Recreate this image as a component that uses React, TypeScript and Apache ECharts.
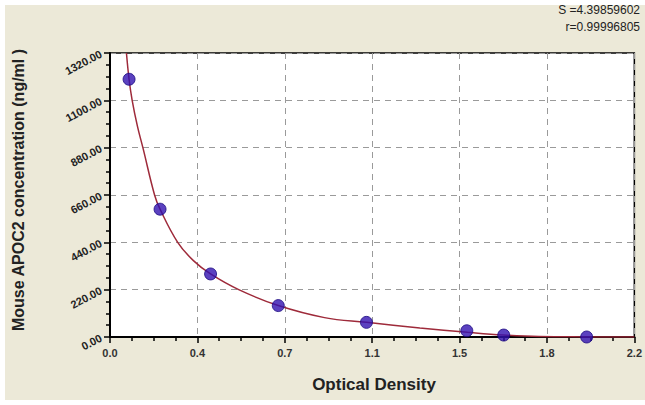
import React, { useEffect, useRef } from "react";
import * as echarts from "echarts";

// Measured standards (optical density, concentration ng/ml)
const pointOD = [0.08, 0.21, 0.422, 0.706, 1.076, 1.497, 1.652, 2.0];
const pointConc = [1198, 594, 293, 146, 68, 29, 9, 0];

// Fitted curve
const curveOD = [0.069, 0.08, 0.093, 0.115, 0.138, 0.187, 0.21, 0.284, 0.35, 0.422, 0.54, 0.706, 0.9, 1.076, 1.3, 1.5, 1.65, 1.8, 2.0, 2.2];
const curveConc = [1320, 1198, 1100, 980, 880, 660, 594, 440, 355, 293, 220, 146, 90, 68, 42, 22, 9, 2, 0.5, 0];

const xTitle = "Optical Density";
const yTitle = "Mouse APOC2 concentration (ng/ml )";
const statS = "S =4.39859602";
const statR = "r=0.99996805";

const X_MIN = 0;
const X_MAX = 2.2;
const Y_MIN = 0;
const Y_MAX = 1320;
const Y_STEP = 220;

export default function App() {
  const ref = useRef<HTMLDivElement>(null);
  useEffect(() => {
    if (!ref.current) return;
    const chart = echarts.init(ref.current, undefined, { renderer: "svg" });
    const font = "'Liberation Sans', Arial, sans-serif";
    chart.setOption({
      animation: false,
      backgroundColor: "#ffffff",
      graphic: [
        { type: "rect", z: -10, silent: true, shape: { x: 5, y: 5, width: 640, height: 395 }, style: { fill: "#ECE9D8" } },
        { type: "text", x: 640, y: 4, style: { text: statS, align: "right", font: `12px ${font}`, fill: "#222" } },
        { type: "text", x: 640, y: 21, style: { text: statR, align: "right", font: `12px ${font}`, fill: "#222" } },
        { type: "text", x: 374, y: 384, style: { text: xTitle, align: "center", verticalAlign: "middle", font: `bold 17px ${font}`, fill: "#222" } },
        { type: "text", x: 18, y: 190, rotation: Math.PI / 2, style: { text: yTitle, align: "center", verticalAlign: "middle", font: `bold 16px ${font}`, fill: "#222" } },
      ],
      grid: {
        left: 110, top: 53, width: 530, height: 284,
        show: true, backgroundColor: "#ffffff", borderColor: "#000", borderWidth: 1.5,
      },
      xAxis: {
        type: "value", min: X_MIN, max: X_MAX, interval: X_MAX / 6,
        axisLine: { show: true, lineStyle: { color: "#000", width: 2 } },
        axisTick: { show: true, inside: false, length: 6, lineStyle: { color: "#000", width: 1.5 } },
        minorTick: { show: true, splitNumber: 4, length: 4, lineStyle: { color: "#000", width: 1.5 } },
        splitLine: { show: true, lineStyle: { color: "#9a9a9a", type: [6, 5], width: 1 } },
        axisLabel: { formatter: (v: number) => v.toFixed(1), color: "#333", fontWeight: "bold", fontSize: 11, fontFamily: font, margin: 10 },
      },
      yAxis: {
        type: "value", min: Y_MIN, max: Y_MAX, interval: Y_STEP,
        axisLine: { show: true, lineStyle: { color: "#000", width: 2 } },
        axisTick: { show: true, inside: false, length: 6, lineStyle: { color: "#000", width: 1.5 } },
        minorTick: { show: true, splitNumber: 4, length: 4, lineStyle: { color: "#000", width: 1.5 } },
        splitLine: { show: true, lineStyle: { color: "#9a9a9a", type: [6, 5], width: 1 } },
        axisLabel: { formatter: (v: number) => v.toFixed(2), rotate: 28, color: "#222", fontWeight: "bold", fontSize: 11, fontFamily: font, margin: 9 },
      },
      series: [
        {
          type: "line", smooth: 0.4, showSymbol: false, clip: true,
          data: curveOD.map((x, i) => [x, curveConc[i]]),
          lineStyle: { color: "#9e2a3a", width: 1.5 },
          z: 2,
        },
        {
          type: "scatter", symbol: "circle", symbolSize: 12,
          data: pointOD.map((x, i) => [x, pointConc[i]]),
          itemStyle: { color: "#3212b0", borderColor: "#1a0a80", borderWidth: 1 },
          z: 3,
        },
      ],
    });
    return () => chart.dispose();
  }, []);
  return <div ref={ref} style={{ position: "fixed", left: 0, top: 0, width: 645, height: 405 }} />;
}
